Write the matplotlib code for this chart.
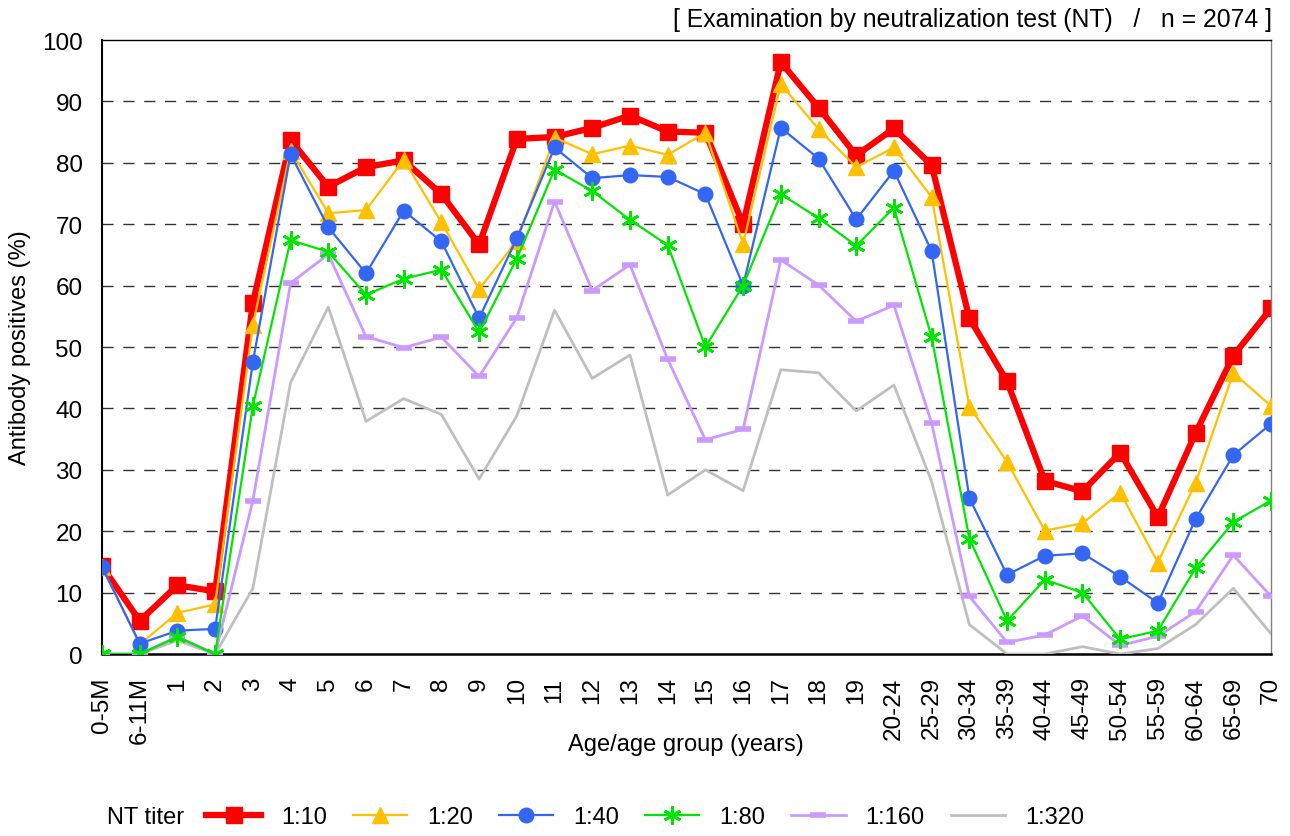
import numpy as np
import matplotlib.pyplot as plt

plt.rcParams['font.family'] = ['Liberation Sans', 'DejaVu Sans']

# Age groups (x categories)
ages = ['0-5M', '6-11M', '1', '2', '3', '4', '5', '6', '7', '8', '9', '10',
        '11', '12', '13', '14', '15', '16', '17', '18', '19', '20-24', '25-29',
        '30-34', '35-39', '40-44', '45-49', '50-54', '55-59', '60-64', '65-69', '70']

# Antibody positives (%) by NT titer
t10 = [14.3, 5.4, 11.2, 10.2, 57.2, 83.7, 76.1, 79.3, 80.4, 74.9, 66.7, 83.9,
       84.2, 85.7, 87.7, 85.1, 84.9, 70.0, 96.4, 89.0, 81.2, 85.6, 79.6,
       54.7, 44.4, 28.2, 26.5, 32.8, 22.3, 36.0, 48.6, 56.3]
t20 = [14.2, 1.6, 6.7, 8.1, 53.6, 82.0, 71.8, 72.3, 80.5, 70.3, 59.4, 67.3,
       84.1, 81.4, 82.8, 81.3, 84.9, 66.8, 92.8, 85.5, 79.3, 82.5, 74.4,
       40.3, 31.3, 20.1, 21.3, 26.3, 14.9, 27.9, 45.8, 40.4]
t40 = [14.2, 1.7, 3.8, 4.1, 47.6, 81.4, 69.5, 62.0, 72.2, 67.2, 54.7, 67.7,
       82.5, 77.5, 78.0, 77.7, 74.9, 60.0, 85.7, 80.7, 70.8, 78.7, 65.6,
       25.4, 12.9, 16.0, 16.4, 12.6, 8.3, 22.0, 32.4, 37.5]
t80 = [0.0, 0.0, 2.8, 0.0, 40.4, 67.4, 65.5, 58.5, 61.1, 62.6, 52.4, 64.4,
       78.9, 75.4, 70.7, 66.6, 50.0, 60.0, 74.9, 71.0, 66.5, 72.7, 51.6,
       18.8, 5.4, 12.1, 10.0, 2.4, 3.8, 14.0, 21.5, 25.0]
t160 = [0.0, 0.0, 2.8, 0.0, 25.0, 60.4, 65.1, 51.7, 49.9, 51.6, 45.2, 54.8,
        73.7, 59.2, 63.4, 48.0, 34.9, 36.6, 64.2, 60.1, 54.2, 56.8, 37.6,
        9.4, 1.9, 3.1, 6.2, 1.4, 2.9, 6.9, 16.1, 9.4]
t320 = [0.0, 0.0, 2.2, 0.0, 10.7, 44.2, 56.5, 37.9, 41.6, 39.0, 28.5, 38.8,
        56.0, 44.9, 48.7, 25.9, 30.0, 26.6, 46.3, 45.8, 39.6, 43.8, 28.1,
        4.8, 0.0, 0.0, 1.2, 0.0, 0.9, 4.8, 10.7, 3.3]

x = np.arange(len(ages))

fig = plt.figure(figsize=(12.9, 8.37), dpi=100)
ax = fig.add_axes([0.0791, 0.2174, 0.9062, 0.7336])

l10, = ax.plot(x, t10, color='#FF0000', lw=4.5, marker='s', ms=11.5, zorder=2)
l20, = ax.plot(x, t20, color='#FFC000', lw=1.6, marker='^', ms=11, zorder=3)
l40, = ax.plot(x, t40, color='#3366F2', lw=1.6, marker='o', ms=10.5, zorder=4)
l320, = ax.plot(x, t320, color='#BFBFBF', lw=2, zorder=5)
l160, = ax.plot(x, t160, color='#CC99FF', lw=2, marker='_', ms=11, mew=4, zorder=6)
l80, = ax.plot(x, t80, color='#00E600', lw=1.6, marker=(6, 2, 0), ms=13, mew=2, zorder=7)

ax.set_xlim(0, len(ages) - 1)
ax.set_ylim(0, 100)
ax.set_yticks(range(0, 101, 10))
ax.set_xticks(x)
ax.set_xticklabels(ages, rotation=90)
ax.tick_params(axis='both', length=0, labelsize=17.5)
ax.tick_params(axis='y', pad=14)
ax.tick_params(axis='x', pad=16)

for yv in range(10, 100, 10):
    ax.axhline(yv, color='#333333', lw=1, ls=(0, (8, 7)), zorder=1)

for side in ['left', 'bottom', 'top']:
    ax.spines[side].set_color('black')
ax.spines['left'].set_linewidth(1.5)
ax.spines['bottom'].set_linewidth(1.8)
ax.spines['top'].set_linewidth(1.0)
ax.spines['right'].set_color('#808080')
ax.spines['right'].set_linewidth(1.0)

ax.set_ylabel('Antibody positives (%)', fontsize=17, labelpad=8)
fig.text(0.532, 1 - 745 / 837, 'Age/age group (years)', ha='center', va='center', fontsize=17)

fig.text(0.986, 0.976, '[ Examination by neutralization test (NT)   /   n = 2074 ]',
         ha='right', va='center', fontsize=17.8)

fig.text(0.083, 0.0227, 'NT titer', ha='left', va='center', fontsize=17)
handles = [l10, l20, l40, l80, l160, l320]
labels = ['1:10', '1:20', '1:40', '1:80', '1:160', '1:320']
fig.legend(handles, labels, loc='center left', bbox_to_anchor=(0.16, 0.0227),
           ncol=6, frameon=False, fontsize=17, handlelength=2.3,
           handletextpad=0.85, columnspacing=1.1, borderpad=0, borderaxespad=0)

fig.savefig('out.png', dpi=100)
